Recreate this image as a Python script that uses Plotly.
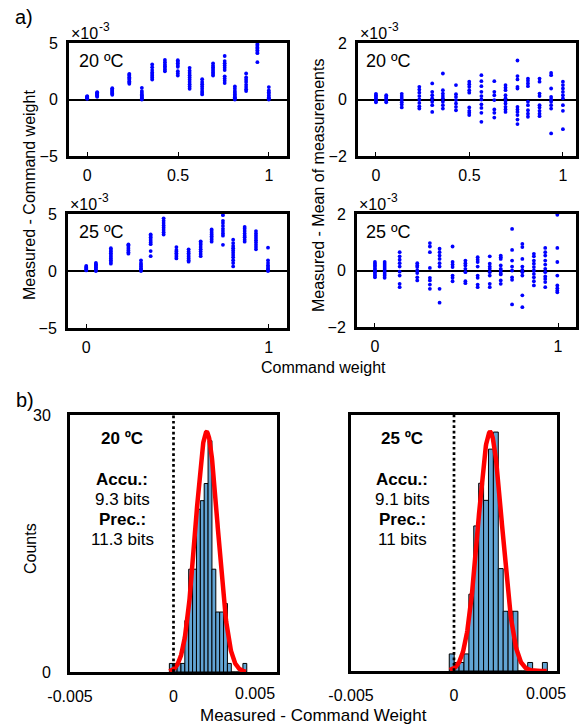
import numpy as np
import plotly.graph_objects as go

FIG_W, FIG_H = 579, 727

# ---------------- data ----------------
# command weights (x positions of the 16 columns)
W20 = [0, 0.055, 0.138, 0.232, 0.301, 0.358, 0.428, 0.499, 0.564, 0.633, 0.693, 0.757, 0.813, 0.875, 0.937, 1.0]
W25 = [0, 0.053, 0.135, 0.231, 0.300, 0.353, 0.424, 0.494, 0.561, 0.627, 0.687, 0.749, 0.805, 0.868, 0.930, 0.996]

# Measured - Command weight  (units of 1e-3), 20 C
DEV20 = [
    [0.06, 0.1, 0.14, 0.18, 0.22, 0.26, 0.3],
    [0.24, 0.3, 0.36, 0.42, 0.48, 0.54, 0.6, 0.65],
    [0.41, 0.5, 0.58, 0.66, 0.75, 0.83, 0.92, 1.0],
    [1.39, 1.5, 1.62, 1.74, 1.86, 1.98, 2.1, 2.2, 2.27],
    [0.0, 0.08, 0.16, 0.25, 0.35, 0.45, 0.6, 0.75, 1.03],
    [1.77, 1.95, 2.1, 2.25, 2.4, 2.6, 2.85, 3.1],
    [2.5, 2.65, 2.8, 2.95, 3.1, 3.3, 3.5],
    [2.12, 2.3, 2.5, 2.9, 3.05, 3.2, 3.35, 3.48],
    [0.95, 1.15, 1.35, 1.55, 1.75, 1.95, 2.15, 2.35, 2.55, 2.8],
    [0.45, 0.6, 0.75, 0.95, 1.15, 1.35, 1.55, 1.8],
    [2.12, 2.25, 2.4, 2.55, 2.7, 2.85, 3.0, 3.2],
    [1.45, 1.65, 1.85, 2.05, 2.6, 2.8, 3.0, 3.2, 3.4, 3.85],
    [0.0, 0.1, 0.2, 0.3, 0.45, 0.6, 0.75, 0.95, 1.15],
    [0.75, 0.9, 1.1, 1.3, 1.55, 1.75, 1.95, 2.3],
    [3.3, 4.1, 4.2, 4.35, 4.5, 4.6, 4.75, 4.9],
    [0.0, 0.1, 0.2, 0.35, 0.5, 0.65, 0.8, 1.1],
]

# Measured - Mean of measurements (units of 1e-3), 20 C
MDEV20 = [
    [0.2, 0.15, 0.1, 0.05, 0.0, -0.05, -0.1],
    [0.15, 0.1, 0.05, 0.0, -0.05, -0.1],
    [0.2, 0.12, 0.05, -0.02, -0.1, -0.18, -0.28],
    [0.45, 0.35, 0.24, 0.12, 0.0, -0.12, -0.24, -0.32],
    [0.57, 0.27, 0.15, 0.04, -0.08, -0.2, -0.44],
    [0.92, 0.33, 0.21, 0.12, 0.04, -0.08, -0.2, -0.32],
    [0.51, 0.19, 0.09, -0.02, -0.14, -0.26, -0.38],
    [0.63, 0.54, 0.45, 0.33, 0.24, -0.28, -0.4, -0.47, -0.55],
    [0.86, 0.65, 0.47, 0.27, 0.12, 0.0, -0.17, -0.3, -0.47, -0.79],
    [0.65, 0.27, 0.15, -0.02, -0.35, -0.47, -0.64],
    [0.51, 0.42, 0.33, 0.15, 0.04, -0.05, -0.14, -0.26, -0.35, -0.44],
    [1.38, 0.83, 0.71, 0.45, 0.39, -0.26, -0.35, -0.44, -0.55, -0.71, -0.87],
    [0.74, 0.66, 0.57, 0.47, -0.08, -0.2, -0.38, -0.5, -0.61],
    [0.74, 0.63, 0.21, 0.12, -0.2, -0.28, -0.4, -0.5, -0.59],
    [0.94, 0.86, 0.39, 0.09, 0.0, -0.08, -0.2, -0.32, -1.2],
    [0.63, 0.51, 0.39, 0.27, 0.15, 0.04, -0.2, -0.4, -1.05],
]

# Measured - Command weight (units of 1e-3), 25 C
DEV25 = [
    [0.05, 0.12, 0.2, 0.28, 0.36, 0.44],
    [0.0, 0.1, 0.2, 0.3, 0.4, 0.5, 0.6, 0.7],
    [0.64, 0.8, 0.95, 1.1, 1.25, 1.4, 1.55, 1.7, 1.85, 2.0],
    [1.52, 1.65, 1.8, 1.95, 2.1, 2.25, 2.34],
    [0.0, 0.12, 0.25, 0.4, 0.55, 0.7, 0.94],
    [1.3, 1.75, 2.35, 2.5, 2.65, 2.8, 2.95, 3.1, 3.22],
    [3.2, 3.4, 3.6, 3.8, 4.0, 4.2, 4.4, 4.62],
    [1.1, 1.25, 1.4, 1.55, 1.7, 1.85, 2.1],
    [0.82, 0.95, 1.1, 1.25, 1.4, 1.55, 1.7, 1.9],
    [1.3, 1.5, 1.7, 1.9, 2.1, 2.3, 2.45, 2.6],
    [2.57, 2.75, 2.9, 3.05, 3.2, 3.35, 3.5, 3.65],
    [2.3, 3.1, 3.3, 3.5, 3.7, 3.95, 4.2, 4.4, 4.9],
    [0.4, 0.7, 0.95, 1.2, 1.4, 1.6, 1.8, 2.0, 2.2, 2.45, 2.75],
    [2.57, 2.75, 2.95, 3.1, 3.3, 3.5, 3.7, 3.86],
    [1.9, 2.1, 2.3, 2.5, 2.7, 2.9, 3.1, 3.3, 3.5],
    [0.0, 0.1, 0.2, 0.35, 0.5, 0.7, 0.94, 2.05],
]

# Measured - Mean of measurements (units of 1e-3), 25 C
MDEV25 = [
    [0.3, 0.24, 0.18, 0.12, 0.06, 0.0, -0.06, -0.12, -0.18, -0.24],
    [0.3, 0.23, 0.16, 0.09, 0.02, -0.05, -0.12, -0.19, -0.26],
    [0.65, 0.5, 0.38, 0.26, 0.14, -0.04, -0.18, -0.47, -0.59],
    [0.26, 0.18, 0.12, 0.0, -0.09, -0.24, -0.35],
    [0.97, 0.85, 0.65, 0.09, -0.26, -0.35, -0.5, -0.65],
    [0.77, 0.65, 0.53, 0.41, 0.26, 0.14, -0.65, -1.14],
    [0.85, 0.3, 0.21, 0.12, -0.18, -0.26, -0.38],
    [0.35, 0.26, 0.18, 0.06, -0.06, -0.38, -0.45],
    [0.47, 0.38, 0.3, 0.14, -0.18, -0.26, -0.5, -0.59],
    [0.5, 0.24, 0.14, 0.06, -0.06, -0.18, -0.47, -0.59],
    [0.53, 0.47, 0.41, 0.18, 0.06, 0.0, -0.09, -0.14, -0.35, -0.47],
    [1.47, 0.73, 0.35, 0.14, 0.0, -0.24, -0.33, -1.2],
    [0.94, 0.83, 0.41, 0.14, 0.02, -0.06, -0.18, -0.88, -1.3],
    [0.59, 0.5, 0.35, 0.24, 0.12, 0.0, -0.12, -0.24, -0.38, -0.53],
    [0.8, 0.65, 0.53, 0.35, 0.21, 0.06, -0.06, -0.21, -0.3, -0.41, -0.59],
    [1.97, 0.8, 0.3, -0.18, -0.53, -0.63, -0.71, -0.77],
]

# histograms (20 bins each)
HIST20_COUNTS = [1, 1, 1, 1, 6, 12, 12, 19, 20, 22, 27, 12, 7, 7, 8, 1, 0, 0, 0, 1]
HIST20_START = -0.0002
HIST20_BINW = 0.000187
HIST25_COUNTS = [2, 1, 1, 2, 9, 17, 22, 20, 26, 28, 12, 7, 7, 7, 0, 0, 1, 0, 0, 1]
HIST25_START = -0.00023
HIST25_BINW = 0.000238

# gaussian fits (mean, sigma, peak height, drawn range)
FIT20 = dict(mean=0.0016, sigma=0.000535, peak=28.0, x0=-0.0002, x1=0.0035)
FIT25 = dict(mean=0.00175, sigma=0.000585, peak=28.0, x0=-0.0002, x1=0.0045)

TEMP_LABELS = ["20 ºC", "25 ºC"]
STATS_20 = ["Accu.:", "9.3 bits", "Prec.:", "11.3 bits"]
STATS_25 = ["Accu.:", "9.1 bits", "Prec.:", "11 bits"]

# ---------------- helpers ----------------
FONT = "Liberation Sans, Arial, Helvetica, sans-serif"


def px(xp):
    return xp / FIG_W


def py(yp):
    return 1 - yp / FIG_H


def flat(ws, cols):
    xs, ys = [], []
    for w, col in zip(ws, cols):
        for v in col:
            xs.append(w)
            ys.append(v)
    return xs, ys


fig = go.Figure()

scatter_sets = [(W20, DEV20, "x", "y"), (W20, MDEV20, "x2", "y2"),
                (W25, DEV25, "x3", "y3"), (W25, MDEV25, "x4", "y4")]
for ws, cols, xa, ya in scatter_sets:
    xs, ys = flat(ws, cols)
    fig.add_trace(go.Scatter(x=xs, y=ys, mode="markers", xaxis=xa, yaxis=ya,
                             marker=dict(color="#0000FF", size=3.8, line=dict(width=0)),
                             showlegend=False, hoverinfo="skip"))

for counts, start, bw, fit, xa, ya in [(HIST20_COUNTS, HIST20_START, HIST20_BINW, FIT20, "x5", "y5"),
                                       (HIST25_COUNTS, HIST25_START, HIST25_BINW, FIT25, "x6", "y6")]:
    centers = [start + (i + 0.5) * bw for i in range(len(counts))]
    fig.add_trace(go.Bar(x=centers, y=counts, width=bw, xaxis=xa, yaxis=ya,
                         marker=dict(color="#62A4D4", line=dict(color="black", width=1)),
                         showlegend=False, hoverinfo="skip"))
    gx = np.linspace(fit["x0"], fit["x1"], 300)
    gy = fit["peak"] * np.exp(-0.5 * ((gx - fit["mean"]) / fit["sigma"]) ** 2)
    fig.add_trace(go.Scatter(x=gx, y=gy, mode="lines", xaxis=xa, yaxis=ya,
                             line=dict(color="#FF0000", width=4.5),
                             showlegend=False, hoverinfo="skip"))

tickfont = dict(family=FONT, size=16, color="black")
box = dict(showline=True, linecolor="black", linewidth=3, mirror=True, automargin=False,
           showgrid=False, zeroline=False, tickfont=tickfont)

# domains in pixels
DOM = {
    1: ((69, 287), (43, 156)),
    2: ((358, 576), (43, 156)),
    3: ((68, 287), (214, 328)),
    4: ((357, 576), (214, 327)),
    5: ((70, 277), (415, 672)),
    6: ((351, 557), (415, 671)),
}


def dom(i):
    (xa, xb), (ya, yb) = DOM[i]
    return [px(xa), px(xb)], [py(yb), py(ya)]


layout = dict(width=FIG_W, height=FIG_H, margin=dict(l=0, r=0, t=0, b=0, autoexpand=False),
              paper_bgcolor="white", plot_bgcolor="white", showlegend=False,
              font=dict(family=FONT, color="black"))

xranges = {1: [-0.1, 1.1], 2: [-0.096, 1.07], 3: [-0.1, 1.1], 4: [-0.098, 1.098]}
xtickvals = {1: [0, 0.5, 1], 2: [0, 0.5, 1], 3: [0, 1], 4: [0, 1]}
yranges = {1: [-5, 5], 2: [-2, 2], 3: [-5, 5], 4: [-2, 2]}
ytickvals = {1: [-5, 0, 5], 2: [-2, 0, 2], 3: [-5, 0, 5], 4: [-2, 0, 2]}

for i in range(1, 7):
    xd, yd = dom(i)
    xk = "xaxis" if i == 1 else f"xaxis{i}"
    yk = "yaxis" if i == 1 else f"yaxis{i}"
    xa = dict(box, domain=xd, anchor="y" if i == 1 else f"y{i}")
    ya = dict(box, domain=yd, anchor="x" if i == 1 else f"x{i}")
    if i <= 4:
        xa.update(range=xranges[i], tickvals=xtickvals[i], ticktext=[f"{v:g}" for v in xtickvals[i]],
                  ticks="inside", ticklen=4, tickwidth=1, tickcolor="black", ticklabelstandoff=3)
        ya.update(range=yranges[i], tickvals=ytickvals[i], ticks="inside", ticklen=4,
                  tickwidth=1, tickcolor="black", ticklabelstandoff=5,
                  zeroline=True, zerolinecolor="black", zerolinewidth=1.6)
    else:
        xa.update(range=[-0.005, 0.005], tickvals=[-0.005, 0], ticktext=["-0.005", "0"],
                  ticks="", ticklabelstandoff=8)
        ya.update(range=[0, 30], tickvals=[0, 30], ticks="", ticklabelstandoff=13,
                  showticklabels=(i == 5))
    layout[xk] = xa
    layout[yk] = ya

fig.update_layout(**layout)

# dotted zero lines on histograms
for xr, yr in [("x5", "y5"), ("x6", "y6")]:
    fig.add_shape(type="line", xref=xr, yref=f"{yr} domain", x0=0, x1=0, y0=0, y1=1,
                  line=dict(color="black", width=2.7, dash="2.7px,2.7px"), layer="above")

ann = []


def A(text, x, y, size=16, xanchor="center", yanchor="middle", **kw):
    d = dict(text=text, x=x, y=y, xref="paper", yref="paper", showarrow=False,
             xanchor=xanchor, yanchor=yanchor, font=dict(family=FONT, size=size, color="black"))
    d.update(kw)
    ann.append(d)


# panel letters
A("a)", px(24), py(17), size=20)
A("b)", px(25), py(400), size=20)

# x10^-3 exponent labels (base and exponent as separate texts)
for i in range(1, 5):
    (xa, xb), (ya, yb) = DOM[i]
    A("×10", px(xa), py(ya - 9), size=16, xanchor="left")
    A("-3", px(xa + 28), py(ya - 16), size=12, xanchor="left")

# temperature labels in scatter panels
A(TEMP_LABELS[0], px(77), py(61), size=18, xanchor="left")
A(TEMP_LABELS[0], px(364), py(61), size=18, xanchor="left")
A(TEMP_LABELS[1], px(77), py(232), size=18, xanchor="left")
A(TEMP_LABELS[1], px(364), py(232), size=18, xanchor="left")

# axis titles
A("Measured - Command weight", px(29), py(195), size=16, textangle=-90)
A("Measured - Mean of measurements", px(318), py(186), size=16, textangle=-90)
A("Command weight", px(323), py(367), size=16)
A("Counts", px(30), py(548), size=16, textangle=-90)
A("Measured - Command Weight", px(313), py(715), size=17)

# histogram stats text
for cx, temp, stats in [(122, TEMP_LABELS[0], STATS_20), (402, TEMP_LABELS[1], STATS_25)]:
    A(f"<b>{temp}</b>", px(cx), py(438), size=17)
    ys = [479, 499, 519, 539]
    for j, (t, yy) in enumerate(zip(stats, ys)):
        txt = f"<b>{t}</b>" if j % 2 == 0 else t
        A(txt, px(cx), py(yy), size=17)

# right-most histogram tick labels (drawn right-aligned as in the original)
A("0.005", 0.005, py(693), size=16, xanchor="right", xref="x5")
A("0.005", 0.005, py(693), size=16, xanchor="right", xref="x6", xshift=11)

fig.update_layout(annotations=ann)
fig.write_html("out.html")
